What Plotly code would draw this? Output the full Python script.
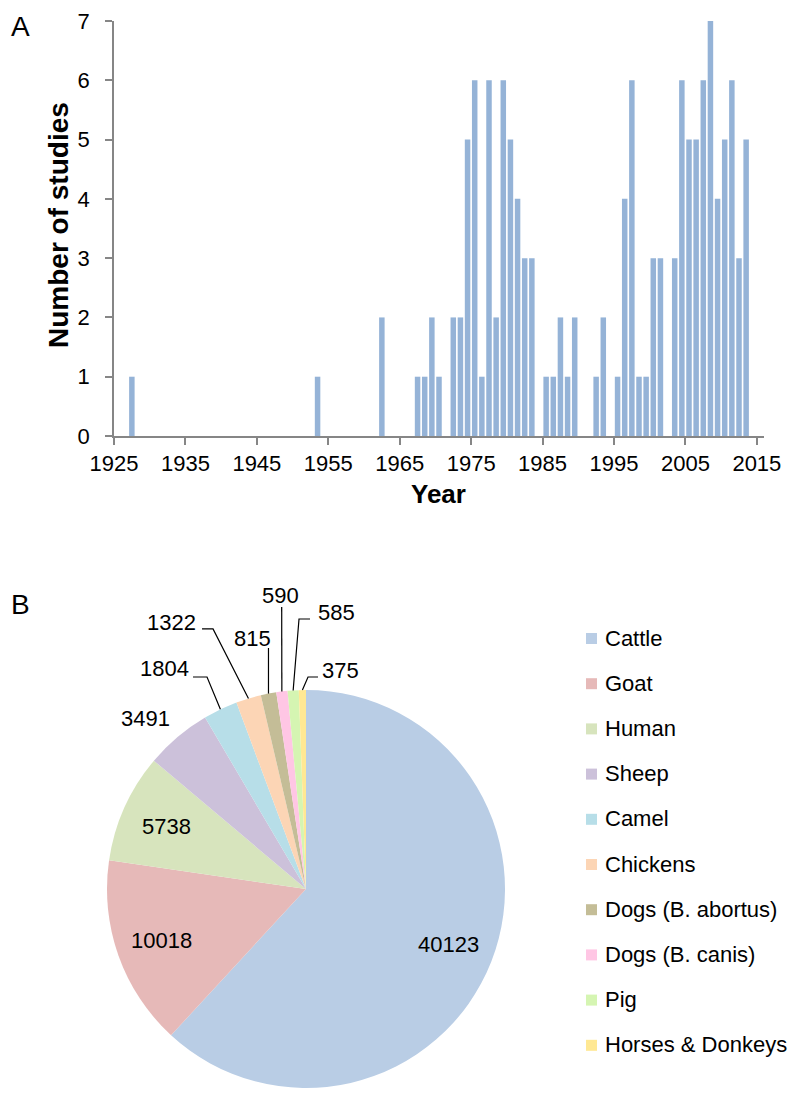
import math
import plotly.graph_objects as go

# Panel A: number of studies per year
years = [1927, 1953, 1962, 1967, 1968, 1969, 1970, 1972, 1973, 1974, 1975, 1976,
         1977, 1978, 1979, 1980, 1981, 1982, 1983, 1985, 1986, 1987, 1988, 1989,
         1992, 1993, 1995, 1996, 1997, 1998, 1999, 2000, 2001, 2003, 2004, 2005,
         2006, 2007, 2008, 2009, 2010, 2011, 2012, 2013]
studies = [1, 1, 2, 1, 1, 2, 1, 2, 2, 5, 6, 1,
           6, 2, 6, 5, 4, 3, 3, 1, 1, 2, 1, 2,
           1, 2, 1, 4, 6, 1, 1, 3, 3, 3, 6, 5,
           5, 6, 7, 4, 5, 6, 3, 5]
year_ticks = [1925, 1935, 1945, 1955, 1965, 1975, 1985, 1995, 2005, 2015]

# Panel B: number of animals / people tested
hosts = ["Cattle", "Goat", "Human", "Sheep", "Camel", "Chickens",
         "Dogs (B. abortus)", "Dogs (B. canis)", "Pig", "Horses & Donkeys"]
counts = [40123, 10018, 5738, 3491, 1804, 1322, 815, 590, 585, 375]
host_colors = ["#B9CDE5", "#E6B9B8", "#D7E4BD", "#CCC1DA", "#B7DEE8",
               "#FCD5B5", "#C4BD97", "#FFC6E4", "#D5F5B2", "#FFE893"]

# the page body has an 8px margin, so the figure is drawn 8px in from the corner
OFF = 8
W, H = 799 - OFF, 1094 - OFF
FONT = "Liberation Sans, Arial, sans-serif"


def px(x, y):
    # window pixel position -> paper coordinates (figure margins are zero)
    return (x - OFF) / W, 1 - (y - OFF) / H


def note(x, y, text, size=22, **kw):
    xp, yp = px(x, y)
    d = dict(x=xp, y=yp, xref="paper", yref="paper", text=text, showarrow=False,
             xanchor="center", yanchor="middle", font=dict(size=size, color="black"))
    d.update(kw)
    return d


fig = go.Figure()

fig.add_trace(go.Bar(
    x=years, y=studies, width=0.77, offset=0.115,
    marker=dict(color="#95B3D7", line=dict(width=0)),
    xaxis="x", yaxis="y", showlegend=False,
))

# pie geometry in window pixels
cx, cy, R = 306, 889, 199
(dx0, dy0), (dx1, dy1) = px(cx - R, cy + R), px(cx + R, cy - R)
fig.add_trace(go.Pie(
    labels=hosts, values=counts, sort=False, direction="clockwise", rotation=0,
    marker=dict(colors=host_colors, line=dict(width=0)),
    textinfo="none", hoverinfo="label+value", showlegend=False,
    domain=dict(x=[dx0, dx1], y=[dy0, dy1]),
))

annotations = []
shapes = []

# slice mid angles (degrees clockwise from 12 o'clock)
total = sum(counts)
mids = []
cum = 0
for v in counts:
    mids.append((cum + v / 2) / total * 360)
    cum += v


def edge(i, r=R):
    a = math.radians(mids[i])
    return cx + r * math.sin(a), cy - r * math.cos(a)


# labels inside the three biggest slices
for i in range(3):
    x, y = edge(i, 0.77 * R)
    annotations.append(note(x, y, str(counts[i])))

# outside labels: (text centre, leader line points in pixels)
outside = {
    3: ((145, 718), []),
    4: ((164, 669), [(193, 677), (207, 677)]),
    5: ((171, 622), [(202, 629), (213, 629)]),
    6: ((252, 638), [(268.5, 648)]),
    7: ((280, 595), [(281.7, 607)]),
    8: ((336, 612), [(310, 619), (299, 619)]),
    9: ((340, 670), [(318, 677), (308, 677)]),
}
for i, (pos, pts) in outside.items():
    annotations.append(note(pos[0], pos[1], str(counts[i])))
    if pts:
        ex, ey = edge(i)
        path_pts = pts + [(ex, ey)]
        path = "M " + " L ".join("%.4f,%.4f" % px(x, y) for x, y in path_pts)
        shapes.append(dict(type="path", path=path, xref="paper", yref="paper",
                           line=dict(color="black", width=1.2)))

# manual legend
for k, (name, col) in enumerate(zip(hosts, host_colors)):
    ly = 638 + k * 45.2
    x0, y0 = px(586, ly - 5)
    x1, y1 = px(597, ly + 6)
    shapes.append(dict(type="rect", x0=x0, x1=x1, y0=y1, y1=y0, xref="paper", yref="paper",
                       fillcolor=col, line=dict(width=0)))
    annotations.append(note(603, ly, name, size=22, xanchor="left"))

# panel letters and axis titles
annotations.append(note(9, 9, "A", size=28, xanchor="left", yanchor="top"))
annotations.append(note(9, 604, "B", size=28, xanchor="left"))
annotations.append(note(58, 225, "<b>Number of studies</b>", size=28, textangle=-90))
annotations.append(note(438, 494, "<b>Year</b>", size=26))

axis_color = "#868686"
axis_style = dict(showgrid=False, zeroline=False, showline=True, linecolor=axis_color,
                  linewidth=1.5, ticks="outside", ticklen=7, tickcolor=axis_color,
                  tickwidth=1.5, tickfont=dict(size=22), automargin=False, fixedrange=True)
ax0, ay0 = px(114, 436)
ax1, ay1 = px(764, 21)
fig.update_layout(
    template="none",
    width=W, height=H,
    margin=dict(l=0, r=0, t=0, b=0, pad=0),
    paper_bgcolor="white", plot_bgcolor="white",
    font=dict(family=FONT, size=22, color="black"),
    xaxis=dict(domain=[ax0, ax1], range=[1925, 2016], tickvals=year_ticks, **axis_style),
    yaxis=dict(domain=[ay0, ay1], range=[0, 7], dtick=1, ticklabelstandoff=11, **axis_style),
    annotations=annotations,
    shapes=shapes,
    showlegend=False,
)

fig.write_html("out.html")
